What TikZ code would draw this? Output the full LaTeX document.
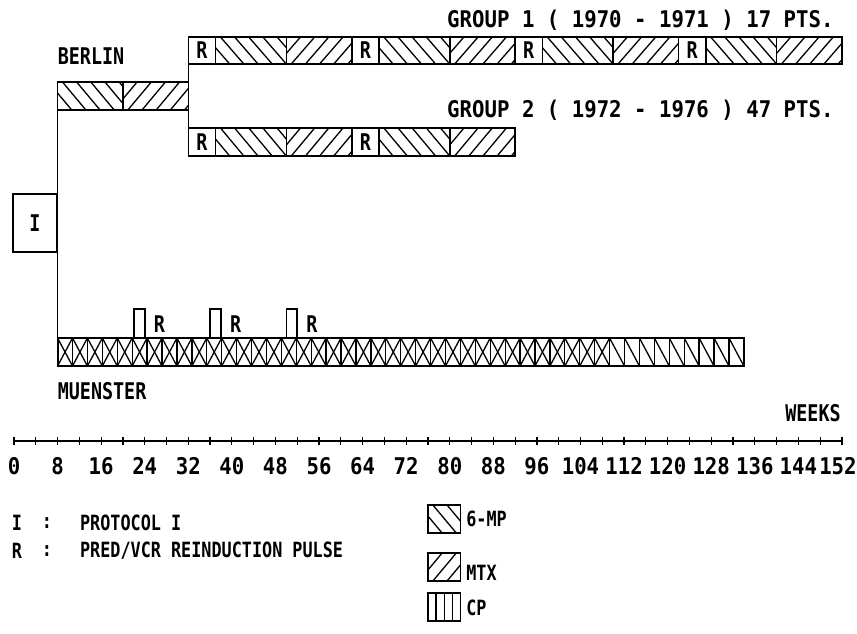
\documentclass[tikz,border=0pt]{standalone}
\usepackage{fontspec}
\setmonofont{DejaVu Sans Mono}[FakeStretch=0.8]
\newfontfamily\plotwide{DejaVu Sans Mono}[FakeStretch=0.9]
\usetikzlibrary{positioning}

% one hatched segment: x1, y1, x2, y2, direction (1 = 6-MP, -1 = MTX)
\newcommand{\hatchseg}[5]{%
  \begin{scope}
    \clip (#1,#2) rectangle (#3,#4);
    \foreach \h in {0,2.6,...,18.3} {
      \ifnum#5=1
        \draw[hatch] (#1-4.3+\h,#2) -- (#1+\h,#4);
      \else
        \draw[hatch] (#1-4.3+\h,#4) -- (#1+\h,#2);
      \fi
    }
  \end{scope}
  \draw[bar] (#1,#2) rectangle (#3,#4);
}

\begin{document}
\begin{tikzpicture}[
    x=5.447pt, y=-1pt,
    lbl/.style={font=\ttfamily\bfseries\fontsize{23}{26}\selectfont, inner sep=0pt},
    keytext/.style={font=\ttfamily\bfseries\fontsize{21}{24}\selectfont, inner sep=0pt},
    title/.style={font=\plotwide\bfseries\fontsize{23}{26}\selectfont, inner sep=0pt},
    bar/.style={draw, line width=1.6pt},
    hatch/.style={line width=1.3pt},
    link/.style={line width=1.6pt}
]
\useasboundingbox (-2.5702,0) rectangle (154.764,633);

% Berlin arm
\node[lbl, anchor=west] (berlin) at (8,56) {BERLIN};
\hatchseg{8}{82}{20}{110}{1}
\hatchseg{20}{82}{32}{110}{-1}
\coordinate (berfoot) at (8,110);

% group 1
\node[title, anchor=west] (grpone) at (79.5,20) {GROUP 1 ( 1970 - 1971 ) 17 PTS.};
\foreach \s in {32,62,92,122} {
  \draw[bar] (\s,37) rectangle ++(5,27);
  \node[lbl] (gaR\s) at (\s+2.5,50.5) {R};
  \hatchseg{\s+5}{37}{\s+18}{64}{1}
  \hatchseg{\s+18}{37}{\s+30}{64}{-1}
}
\coordinate (g1foot) at (32,64);

% group 2
\node[title, anchor=west] (grptwo) at (79.5,110) {GROUP 2 ( 1972 - 1976 ) 47 PTS.};
\foreach \s in {32,62} {
  \draw[bar] (\s,128) rectangle ++(5,28);
  \node[lbl] (gbR\s) at (\s+2.5,142) {R};
  \hatchseg{\s+5}{128}{\s+18}{156}{1}
  \hatchseg{\s+18}{128}{\s+30}{156}{-1}
}
\coordinate (g2head) at (32,128);
\draw[link] (g1foot) -- (g2head);

% protocol I
\node[lbl, draw, line width=1.6pt, minimum width=43.58pt, minimum height=58pt, anchor=east] (prot) at (8,223) {I};

% Muenster arm
\foreach \i in {0,...,45} {
  \pgfmathsetmacro\cx{8+\i*2.739}
  \draw[hatch] (\cx,338) -- (\cx+2.739,366);
  \ifnum\i<37 \draw[hatch] (\cx,366) -- (\cx+2.739,338); \fi
  \draw[hatch] (\cx,338) -- (\cx,366);
}
\draw[bar, line width=2pt] (8,338) rectangle (134,366);
\coordinate (muhead) at (8,338);
\draw[link] (berfoot) -- (muhead);
\foreach \p/\n in {22/1,36/2,50/3} {
  \draw[bar] (\p,309) rectangle (\p+2,338);
  \node[lbl] (mR\n) at (\p+4.7,324) {R};
}
\node[lbl, anchor=west] (muenster) at (8,391) {MUENSTER};

% time axis
\node[lbl, anchor=east] (weeks) at (151.8,413) {WEEKS};
\draw[line width=1.6pt] (0,441) -- (152,441);
\foreach \w in {0,4,...,152} \draw[line width=1.2pt] (\w,437) -- (\w,445);
\foreach \w in {0,8,...,144} \node[title] (t\w) at (\w,466) {\w};
\node[title, xshift=-4pt] (t152) at (152,466) {152};

% key
\node[keytext] (keyI) at (0.55,523) {I};
\node[keytext] (colI) at (6.05,523) {:};
\node[keytext, anchor=west] (protI) at (12.1,523) {PROTOCOL I};
\node[keytext] (keyR) at (0.55,551) {R};
\node[keytext] (colR) at (6.05,551) {:};
\node[keytext, anchor=west] (pulseR) at (12.1,551) {PRED/VCR REINDUCTION PULSE};

\hatchseg{76}{505}{82}{533}{1}
\node[keytext, anchor=west] (keymp) at (83,519) {6-MP};
\hatchseg{76}{553}{82}{581}{-1}
\node[keytext, anchor=west] (keymtx) at (83,573) {MTX};
\draw[bar] (76,593) rectangle (82,621);
\foreach \k in {1,2,3} \draw[hatch] (76+1.5*\k,593) -- ++(0,28);
\node[keytext, anchor=west] (keycp) at (83,608) {CP};
\end{tikzpicture}
\end{document}
